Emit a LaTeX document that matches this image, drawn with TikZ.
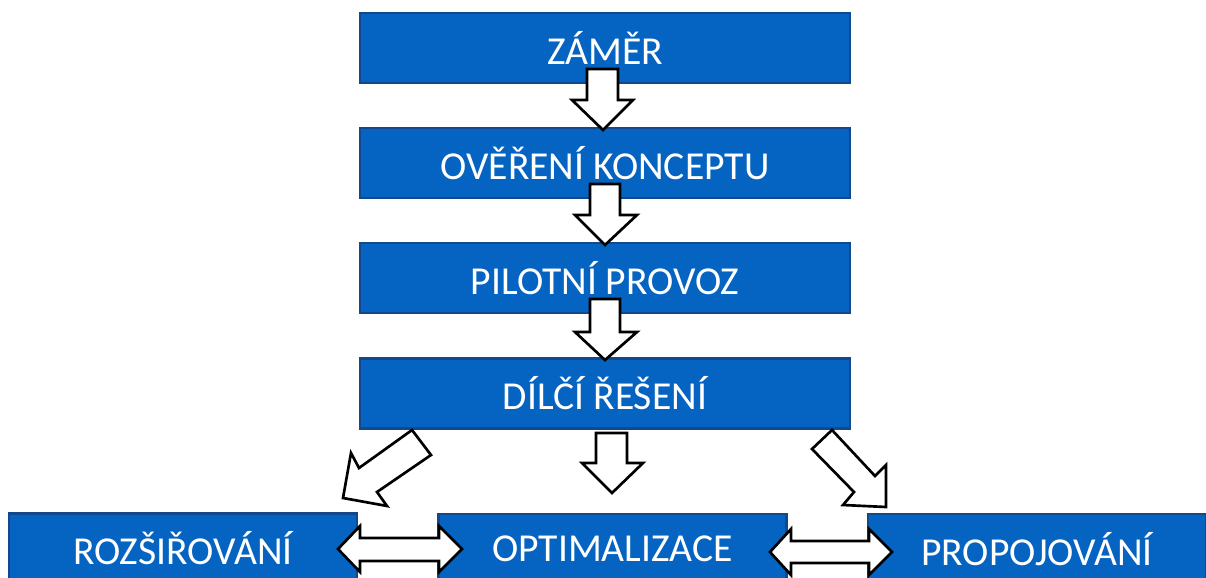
\documentclass[tikz,border=0pt]{standalone}
\usepackage{fontspec}
\setmainfont{Carlito}
\definecolor{boxfill}{RGB}{5,99,193}
\definecolor{boxline}{RGB}{20,72,140}
\begin{document}
\begin{tikzpicture}[x=0.75pt,y=-0.75pt,
  box/.style={draw=boxline,line width=1.6pt,fill=boxfill,text=white,
    font=\fontsize{29.7}{34}\selectfont,inner sep=0pt,
    minimum height=52.5pt},
  topbox/.style={box,minimum width=367.5pt},
  botbox/.style={box,minimum width=261pt},
  blockarrow/.style={draw=black,fill=white,line width=2pt,line join=miter}]
\useasboundingbox (0,0) rectangle (1206,578);
\clip (0,0) rectangle (1206,578);
\node[topbox] (b1) at (605,48) {ZÁMĚR};
\node[topbox] (b2) at (605,163) {OVĚŘENÍ KONCEPTU};
\node[topbox] (b3) at (605,278) {PILOTNÍ PROVOZ};
\node[topbox] (b4) at (605,393.5) {DÍLČÍ ŘEŠENÍ};
\node[botbox] (l) at (183,548.5) {ROZŠIŘOVÁNÍ};
\node[botbox] (m) at (612.5,549) {OPTIMALIZACE};
\node[botbox,minimum width=253.5pt] (r) at (1037,549) {PROPOJOVÁNÍ};
% down arrows
\draw[blockarrow] (587,69) -- (618,69) -- (618,100) -- (633,100) -- (603,130) -- (572,100) -- (587,100) -- cycle;
\draw[blockarrow] (590,184) -- (620,184) -- (620,215) -- (637,215) -- (605,245) -- (575,215) -- (590,215) -- cycle;
\draw[blockarrow] (590,299) -- (620,299) -- (620,332) -- (637,332) -- (605,360) -- (575,332) -- (590,332) -- cycle;
\draw[blockarrow] (596,433) -- (627,433) -- (627,463) -- (643,463) -- (612,493) -- (582,463) -- (596,463) -- cycle;
% diagonal arrows
\draw[blockarrow] (412,430) -- (359,468) -- (351,453) -- (343,498) -- (387,506) -- (377,492) -- (431,455) -- cycle;
\draw[blockarrow] (832,430) -- (875,476) -- (886,465) -- (886,507) -- (843,505) -- (854,492) -- (812,449) -- cycle;
% double arrows
\draw[blockarrow] (338,549) -- (360,526) -- (360,538) -- (439,538) -- (439,526) -- (462,549) -- (439,572) -- (439,561) -- (360,561) -- (360,572) -- cycle;
\draw[blockarrow] (770,552) -- (791,529) -- (791,541) -- (869,541) -- (869,529) -- (892,552) -- (869,575) -- (869,563) -- (791,563) -- (791,575) -- cycle;
\end{tikzpicture}
\end{document}
